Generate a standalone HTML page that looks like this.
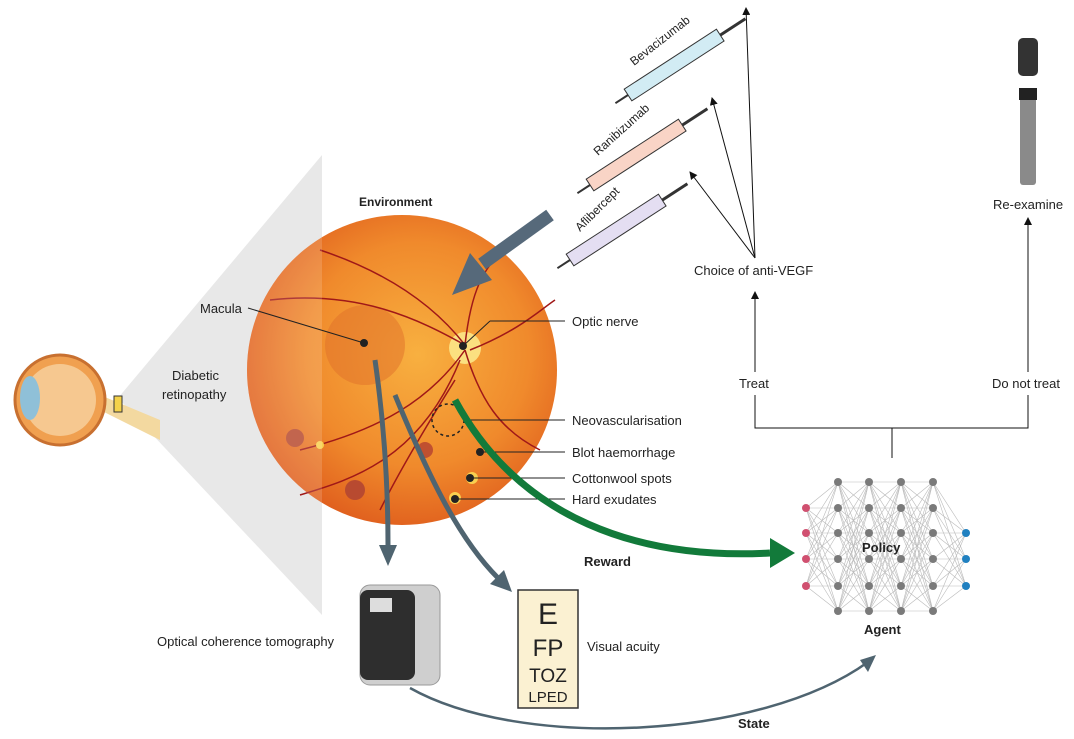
<!DOCTYPE html>
<html><head><meta charset="utf-8"><style>
body{margin:0;background:#fff;}
svg{display:block;font-family:"Liberation Sans",sans-serif;}
text{font-size:13px;fill:#222;}
.b{font-weight:bold;}
</style></head><body>
<svg id="s" width="1074" height="739" viewBox="0 0 1074 739" xmlns="http://www.w3.org/2000/svg">
<defs>
<radialGradient id="fg" cx="0.55" cy="0.45" r="0.6">
<stop offset="0" stop-color="#f8b040"/><stop offset="0.6" stop-color="#f08a2c"/><stop offset="1" stop-color="#de5a1c"/>
</radialGradient>
<clipPath id="lc"><rect x="0" y="0" width="322" height="739"/></clipPath>
<marker id="ah" markerWidth="8" markerHeight="8" refX="7" refY="4" orient="auto"><path d="M0,0 L8,4 L0,8z" fill="#111"/></marker>
<marker id="ga" markerWidth="4" markerHeight="4" refX="2" refY="2" orient="auto"><path d="M0,0 L4,2 L0,4z" fill="#4f6470"/></marker>
</defs>
<!-- cone -->
<polygon points="118,398 322,155 322,615" fill="#e8e8e8"/>
<!-- eye -->
<path d="M100,395 L160,420 L160,440 L100,410z" fill="#f3d9a0"/>
<circle cx="60" cy="400" r="45" fill="#f0a050" stroke="#c87030" stroke-width="3"/>
<circle cx="60" cy="400" r="36" fill="#f6c890"/>
<ellipse cx="30" cy="398" rx="10" ry="22" fill="#8fc0d8"/>
<rect x="114" y="396" width="8" height="16" fill="#f4d24a" stroke="#333"/>
<!-- fundus -->
<circle cx="402" cy="370" r="155" fill="url(#fg)"/>
<circle cx="365" cy="345" r="40" fill="#e0702a" opacity="0.5"/>
<circle cx="465" cy="348" r="16" fill="#fbe080"/>
<g stroke="#a01818" stroke-width="1.5" fill="none">
<path d="M465,345 C430,300 380,270 320,250"/><path d="M465,345 C470,300 480,260 520,240"/>
<path d="M465,350 C430,400 380,430 300,450"/><path d="M465,350 C480,400 500,430 540,450"/>
<path d="M465,345 C420,320 360,290 270,300"/><path d="M460,360 C420,460 350,480 300,495"/>
<path d="M470,350 C520,330 540,310 555,300"/><path d="M455,380 C430,420 400,470 380,510"/>
</g>
<circle cx="295" cy="438" r="9" fill="#b84a30"/><circle cx="355" cy="490" r="10" fill="#b84a30"/>
<circle cx="425" cy="450" r="8" fill="#c05030"/><circle cx="472" cy="478" r="6" fill="#f8d050"/>
<circle cx="455" cy="498" r="6" fill="#f8d050"/><circle cx="320" cy="445" r="4" fill="#f8d050"/>
<circle cx="402" cy="370" r="155" fill="#ffffff" opacity="0.15" clip-path="url(#lc)"/>
<circle cx="364" cy="343" r="4" fill="#222"/><circle cx="463" cy="346" r="4" fill="#222"/>
<circle cx="448" cy="420" r="16" fill="none" stroke="#222" stroke-dasharray="3,3" stroke-width="1.5"/>
<circle cx="480" cy="452" r="4" fill="#222"/><circle cx="470" cy="478" r="4" fill="#222"/><circle cx="455" cy="499" r="4" fill="#222"/>
<g stroke="#222" stroke-width="1">
<line x1="248" y1="308" x2="364" y2="343"/><line x1="463" y1="346" x2="490" y2="321"/><line x1="490" y1="321" x2="565" y2="321"/>
<line x1="464" y1="420" x2="565" y2="420"/><line x1="480" y1="452" x2="565" y2="452"/><line x1="470" y1="478" x2="565" y2="478"/><line x1="455" y1="499" x2="565" y2="499"/>
</g>
<text x="200" y="313">Macula</text><text x="572" y="326">Optic nerve</text>
<text x="572" y="425">Neovascularisation</text><text x="572" y="457">Blot haemorrhage</text>
<text x="572" y="483">Cottonwool spots</text><text x="572" y="504">Hard exudates</text>
<text x="172" y="380">Diabetic</text><text x="162" y="399">retinopathy</text>
<text x="359" y="206" class="b" style="font-size:12px">Environment</text>
<!-- big arrow in -->
<line x1="550" y1="215" x2="482" y2="264" stroke="#56697a" stroke-width="13"/>
<polygon points="470,253 492,280 452,295" fill="#56697a"/>
<!-- gray arrows out -->
<path d="M375,360 C385,430 388,490 388,545" stroke="#4f6470" stroke-width="5" fill="none"/>
<polygon points="379,545 397,545 388,566" fill="#4f6470"/>
<path d="M395,395 C430,480 460,540 498,578" stroke="#4f6470" stroke-width="5" fill="none"/>
<polygon points="490,584 504,570 512,592" fill="#4f6470"/>
<!-- green reward -->
<path d="M455,400 C520,520 640,560 770,553" stroke="#127a3a" stroke-width="7" fill="none"/>
<polygon points="770,538 795,553 770,568" fill="#127a3a"/>
<text x="584" y="566" class="b">Reward</text>
<!-- OCT -->
<rect x="360" y="585" width="80" height="100" rx="10" fill="#cfcfcf" stroke="#999"/>
<rect x="360" y="590" width="55" height="90" rx="8" fill="#2e2e2e"/>
<rect x="370" y="598" width="22" height="14" fill="#ddd"/>
<text x="157" y="646">Optical coherence tomography</text>
<!-- eye chart -->
<rect x="518" y="590" width="60" height="118" fill="#fbf1d2" stroke="#333" stroke-width="1.5"/>
<text x="548" y="624" text-anchor="middle" style="font-size:30px">E</text>
<text x="548" y="656" text-anchor="middle" style="font-size:24px">FP</text>
<text x="548" y="682" text-anchor="middle" style="font-size:19px">TOZ</text>
<text x="548" y="702" text-anchor="middle" style="font-size:15px">LPED</text>
<text x="587" y="651">Visual acuity</text>
<!-- state arrow -->
<path d="M410,688 C520,750 760,740 868,662" stroke="#4f6470" stroke-width="2.5" fill="none"/>
<polygon points="860,660 876,655 868,672" fill="#4f6470"/>
<text x="738" y="728" class="b">State</text>
<!-- syringes -->
<g transform="translate(628,95) rotate(-33)"><rect x="0" y="-7" width="110" height="14" fill="#d2ecf4" stroke="#333"/><line x1="-15" y1="0" x2="0" y2="0" stroke="#333" stroke-width="2"/><line x1="110" y1="0" x2="140" y2="0" stroke="#333" stroke-width="3"/></g>
<g transform="translate(590,185) rotate(-33)"><rect x="0" y="-7" width="110" height="14" fill="#f9d4c6" stroke="#333"/><line x1="-15" y1="0" x2="0" y2="0" stroke="#333" stroke-width="2"/><line x1="110" y1="0" x2="140" y2="0" stroke="#333" stroke-width="3"/></g>
<g transform="translate(570,260) rotate(-33)"><rect x="0" y="-7" width="110" height="14" fill="#e4def2" stroke="#333"/><line x1="-15" y1="0" x2="0" y2="0" stroke="#333" stroke-width="2"/><line x1="110" y1="0" x2="140" y2="0" stroke="#333" stroke-width="3"/></g>
<text transform="translate(634,66) rotate(-38)" style="font-size:12px">Bevacizumab</text>
<text transform="translate(598,156) rotate(-42)" style="font-size:12px">Ranibizumab</text>
<text transform="translate(580,232) rotate(-45)" style="font-size:12px">Aflibercept</text>
<!-- ophthalmoscope -->
<rect x="1018" y="38" width="20" height="38" rx="5" fill="#333"/>
<rect x="1020" y="90" width="16" height="95" rx="3" fill="#8a8a8a"/>
<rect x="1019" y="88" width="18" height="12" fill="#222"/>
<!-- tree -->
<g stroke="#111" stroke-width="1" fill="none">
<line x1="755" y1="258" x2="746" y2="8" marker-end="url(#ah)"/>
<line x1="755" y1="258" x2="712" y2="98" marker-end="url(#ah)"/>
<line x1="755" y1="258" x2="690" y2="172" marker-end="url(#ah)"/>
<line x1="755" y1="372" x2="755" y2="292" marker-end="url(#ah)"/>
<line x1="1028" y1="372" x2="1028" y2="218" marker-end="url(#ah)"/>
<polyline points="755,395 755,428 1028,428 1028,395"/>
<line x1="892" y1="428" x2="892" y2="458"/>
</g>
<text x="694" y="275">Choice of anti-VEGF</text>
<text x="739" y="388">Treat</text><text x="992" y="388">Do not treat</text>
<text x="993" y="209">Re-examine</text>
<g id="nn"></g>
<text x="862" y="552" class="b">Policy</text>
<text x="864" y="634" class="b">Agent</text>
</svg>
<script>
var g=document.getElementById('nn'),h='';
var L=[[806,[508,533,559,586],'#d05070']];
[838,869,901,933].forEach(function(x){L.push([x,[482,508,533,559,586,611],'#7a7a7a']);});
L.push([966,[533,559,586],'#2080c0']);
for(var i=0;i<L.length-1;i++)L[i][1].forEach(function(a){L[i+1][1].forEach(function(b){h+='<line x1="'+L[i][0]+'" y1="'+a+'" x2="'+L[i+1][0]+'" y2="'+b+'" stroke="#bbb" stroke-width="0.6"/>';});});
L.forEach(function(l){l[1].forEach(function(y){h+='<circle cx="'+l[0]+'" cy="'+y+'" r="4" fill="'+l[2]+'"/>';});});
g.innerHTML=h;
</script>
</body></html>
